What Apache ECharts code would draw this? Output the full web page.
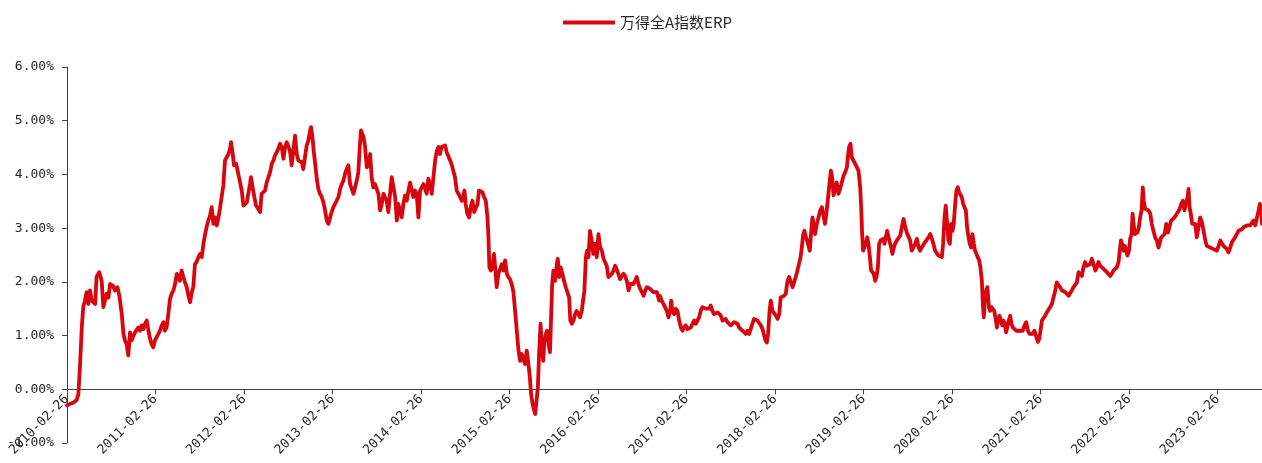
<!DOCTYPE html>
<html>
<head>
<meta charset="utf-8">
<script src="https://cdn.jsdelivr.net/npm/echarts@6/dist/echarts.min.js"></script>
<style>
html,body{margin:0;padding:0;background:#fff;}
#chart{width:1262px;height:463px;}
</style>
</head>
<body>
<div id="chart"></div>
<script>
// Series name
const seriesName = '万得全A指数ERP';
// Year tick labels (x axis = days since 2010-02-26)
const tickLabels = ['2010-02-26','2011-02-26','2012-02-26','2013-02-26','2014-02-26','2015-02-26','2016-02-26','2017-02-26','2018-02-26','2019-02-26','2020-02-26','2021-02-26','2022-02-26','2023-02-26'];
const daysPerYear = 365.25;
const lastDay = 4931;
// Y axis range (%)
const yMin = -1, yMax = 6, yStep = 1;
// ERP readings: [days since 2010-02-26, ERP in %]
const erpPoints = [
[0,-0.30],[12,-0.27],[26,-0.25],[40,-0.20],[47,-0.09],[54,0.47],[61,1.15],[67,1.53],[74,1.65],[81,1.81],[88,1.59],[95,1.84],[102,1.65],[109,1.62],[116,1.59],[122,2.09],[133,2.18],[143,2.02],[150,1.53],[157,1.56],[164,1.78],[171,1.71],[178,1.96],[189,1.93],[198,1.84],[208,1.90],[216,1.74],[226,1.40],[233,1.03],[239,0.91],[246,0.84],[253,0.63],[260,1.06],[267,0.91],[274,1.00],[281,1.06],[288,1.03],[294,1.15],[301,1.09],[308,1.19],[315,1.12],[322,1.22],[329,1.28],[336,1.09],[343,0.94],[349,0.84],[356,0.78],[363,0.91],[370,0.97],[377,1.03],[384,1.09],[391,1.19],[398,1.25],[404,1.09],[411,1.15],[418,1.40],[425,1.68],[432,1.78],[439,1.84],[446,1.96],[453,2.15],[460,2.09],[466,2.02],[473,2.21],[480,2.09],[487,1.99],[494,1.90],[501,1.74],[508,1.62],[515,1.81],[521,1.90],[528,2.33],[535,2.37],[542,2.46],[549,2.52],[556,2.46],[563,2.71],[570,2.89],[576,3.02],[583,3.14],[590,3.23],[597,3.39],[604,3.08],[611,3.20],[618,3.05],[625,3.20],[631,3.36],[638,3.58],[645,3.79],[652,4.26],[659,4.32],[666,4.38],[673,4.48],[677,4.60],[684,4.38],[689,4.17],[698,4.20],[704,4.07],[714,3.85],[721,3.70],[728,3.42],[735,3.39],[742,3.48],[748,3.64],[755,3.82],[759,3.95],[766,3.76],[773,3.58],[780,3.42],[787,3.45],
[797,3.30],[803,3.64],[810,3.61],[817,3.70],[824,3.85],[831,3.95],[838,4.04],[845,4.20],[852,4.26],[858,4.35],[865,4.41],[872,4.48],[879,4.57],[886,4.51],[893,4.29],[900,4.51],[907,4.60],[914,4.57],[920,4.44],[927,4.17],[934,4.44],[941,4.72],[948,4.38],[955,4.26],[962,4.29],[969,4.23],[975,4.10],[982,4.32],[989,4.54],[996,4.63],[1003,4.82],[1007,4.88],[1013,4.69],[1018,4.44],[1024,4.20],[1030,3.95],[1037,3.73],[1044,3.64],[1051,3.58],[1058,3.48],[1065,3.33],[1072,3.14],[1079,3.08],[1085,3.11],[1092,3.30],[1099,3.39],[1106,3.45],[1113,3.48],[1120,3.58],[1127,3.73],[1134,3.82],[1141,3.89],[1147,4.01],[1154,4.10],[1161,4.17],[1168,3.82],[1175,3.73],[1182,3.64],[1189,3.61],[1196,3.89],[1202,4.04],[1209,4.57],[1213,4.82],[1219,4.79],[1224,4.69],[1230,4.51],[1237,4.13],[1244,4.17],[1251,4.38],[1257,3.95],[1264,3.76],[1271,3.82],[1278,3.85],[1285,3.64],[1292,3.33],[1299,3.45],[1306,3.64],[1312,3.64],[1319,3.51],[1326,3.30],[1333,3.64],[1340,3.95],[1347,3.92],[1354,3.58],[1361,3.14],[1367,3.45],[1374,3.33],[1381,3.20],[1388,3.45],[1395,3.61],[1402,3.51],[1409,3.70],[1416,3.85],[1423,3.70],[1429,3.58],[1436,3.70],[1443,3.64],[1450,3.20],[1457,3.70],[1464,3.76],[1471,3.82],[1478,3.73],[1484,3.64],[1491,3.92],[1498,3.82],[1505,3.64],[1512,3.95],[1519,4.26],[1526,4.44],[1533,4.51],[1539,4.38],[1546,4.51],[1553,4.48],[1560,4.54],[1567,4.41],[1574,4.44],[1581,4.26],[1588,4.17],[1594,4.07],[1601,3.95],[1608,3.70],
[1622,3.58],[1629,3.51],[1636,3.61],[1640,3.70],[1645,3.45],[1652,3.27],[1659,3.20],[1666,3.39],[1673,3.51],[1680,3.30],[1687,3.27],[1694,3.45],[1700,3.70],[1707,3.70],[1714,3.67],[1721,3.58],[1728,3.51],[1735,3.20],[1739,2.83],[1743,2.27],[1749,2.21],[1755,2.27],[1762,2.52],[1769,2.15],[1773,1.90],[1780,2.15],[1787,2.15],[1794,2.33],[1801,2.21],[1808,2.40],[1815,2.15],[1821,2.09],[1828,2.05],[1835,1.96],[1842,1.81],[1849,1.46],[1856,1.09],[1863,0.72],[1870,0.53],[1876,0.66],[1883,0.56],[1890,0.47],[1897,0.72],[1904,0.47],[1910,0.22],[1915,-0.09],[1921,-0.27],[1926,-0.37],[1932,-0.46],[1937,-0.24],[1943,0.04],[1948,0.66],[1954,1.22],[1959,0.84],[1965,0.53],[1970,0.91],[1976,1.03],[1981,1.09],[1987,0.84],[1993,0.69],[1998,0.66],[2002,1.96],[2007,2.21],[2014,2.02],[2021,2.33],[2025,2.43],[2031,2.09],[2037,2.27],[2044,2.15],[2051,2.02],[2058,1.90],[2065,1.90],[2072,1.71],[2077,1.28],[2083,1.22],[2090,1.28],[2097,1.40],[2103,1.46],[2110,1.40],[2117,1.34],[2124,1.46],[2131,1.46],[2135,1.84],[2141,2.46],[2146,2.58],[2152,2.46],[2158,2.95],[2165,2.77],[2172,2.52],[2179,2.71],[2186,2.46],[2193,2.89],[2200,2.64],[2207,2.58],[2214,2.43],[2220,2.40],[2227,2.30],[2234,2.09],[2241,2.09],[2248,2.15],[2255,2.21],[2262,2.30],[2269,2.27],[2275,2.15],[2282,2.05],[2289,2.02],[2296,2.15],[2303,2.11],[2310,2.02],[2317,1.84],[2324,1.96],[2330,1.93],[2337,1.96],[2344,2.02],[2351,2.09],[2358,1.96],[2365,1.87],[2372,1.81],[2379,1.74],[2386,1.84],[2392,1.90],[2399,1.93],[2406,1.87],[2413,1.84],[2420,1.81],[2427,1.84],[2434,1.81],[2443,1.65],
[2447,1.74],[2454,1.65],[2461,1.59],[2468,1.56],[2475,1.46],[2482,1.34],[2489,1.46],[2493,1.65],[2498,1.46],[2505,1.40],[2512,1.50],[2519,1.46],[2526,1.28],[2533,1.15],[2540,1.09],[2546,1.15],[2553,1.19],[2560,1.12],[2567,1.09],[2574,1.15],[2581,1.22],[2588,1.28],[2595,1.22],[2601,1.25],[2608,1.34],[2615,1.46],[2622,1.53],[2629,1.53],[2636,1.50],[2643,1.53],[2650,1.50],[2656,1.56],[2663,1.46],[2670,1.40],[2677,1.37],[2684,1.43],[2691,1.46],[2698,1.37],[2705,1.28],[2712,1.25],[2718,1.31],[2725,1.25],[2732,1.22],[2739,1.19],[2746,1.22],[2753,1.25],[2760,1.25],[2767,1.22],[2773,1.15],[2780,1.12],[2787,1.09],[2794,1.06],[2801,1.03],[2808,1.09],[2815,1.03],[2822,1.06],[2828,1.22],[2835,1.31],[2842,1.31],[2849,1.28],[2856,1.25],[2863,1.19],[2870,1.12],[2877,1.00],[2882,0.91],[2888,0.87],[2893,1.03],[2899,1.46],[2904,1.65],[2911,1.46],[2918,1.43],[2925,1.37],[2932,1.31],[2939,1.40],[2945,1.71],[2952,1.74],[2959,1.74],[2966,1.78],[2973,2.02],[2980,2.09],[2987,2.09],[2994,1.90],[3000,1.87],[3007,2.09],[3014,2.21],[3021,2.21],[3027,2.46],[3032,2.64],[3038,2.89],[3043,2.95],[3049,2.83],[3054,2.77],[3060,2.77],[3065,2.58],[3071,2.95],[3076,3.20],[3082,3.02],[3087,2.89],[3094,3.08],[3101,3.20],[3108,3.33],[3115,3.39],[3121,3.42],[3128,3.08],[3135,3.33],[3142,3.64],[3146,3.82],[3152,4.07],[3157,3.95],[3163,3.61],[3170,3.76],[3176,3.85],[3183,3.64],[3190,3.73],[3197,3.85],[3204,3.97],[3211,4.04],[3218,4.13],[3222,4.32],[3227,4.51],[3233,4.57],[3238,4.32],[3245,4.29],[3252,4.20],[3259,4.17],[3266,4.07],
[3273,3.76],[3277,3.39],[3281,2.89],[3285,2.58],[3291,2.58],[3296,2.71],[3302,2.83],[3307,2.71],[3313,2.46],[3318,2.21],[3324,2.18],[3329,2.15],[3335,2.02],[3340,2.09],[3346,2.27],[3351,2.71],[3357,2.77],[3362,2.74],[3368,2.80],[3373,2.71],[3379,2.83],[3384,2.95],[3390,2.83],[3395,2.74],[3401,2.64],[3406,2.52],[3412,2.64],[3417,2.71],[3424,2.77],[3431,2.80],[3438,2.86],[3445,3.02],[3452,3.17],[3459,3.02],[3465,2.92],[3472,2.95],[3479,2.77],[3486,2.58],[3493,2.64],[3500,2.71],[3507,2.80],[3514,2.64],[3520,2.58],[3527,2.64],[3534,2.67],[3541,2.74],[3548,2.77],[3555,2.83],[3562,2.89],[3569,2.80],[3575,2.71],[3582,2.58],[3589,2.58],[3596,2.49],[3603,2.46],[3610,2.46],[3615,2.71],[3621,3.20],[3626,3.42],[3632,3.08],[3637,2.77],[3643,2.71],[3648,3.08],[3654,2.95],[3659,3.08],[3665,3.45],[3670,3.70],[3676,3.76],[3681,3.67],[3687,3.64],[3692,3.58],[3698,3.45],[3703,3.45],[3709,3.33],[3714,3.02],[3720,2.83],[3725,2.71],[3731,2.64],[3736,2.89],[3742,2.71],[3747,2.58],[3753,2.55],[3758,2.46],[3764,2.40],[3769,2.27],[3775,2.02],[3779,1.59],[3783,1.34],[3787,1.65],[3793,1.84],[3798,1.90],[3804,1.53],[3809,1.46],[3815,1.53],[3820,1.56],[3826,1.46],[3831,1.34],[3837,1.15],[3842,1.28],[3848,1.37],[3853,1.28],[3859,1.19],[3864,1.28],[3870,1.22],[3875,1.06],[3881,1.09],[3886,1.28],[3892,1.37],[3897,1.22],[3903,1.15],[3910,1.12],[3917,1.09],[3924,1.06],[3930,1.09],[3937,1.06],[3944,1.09],[3951,1.19],[3958,1.25],[3965,1.09],[3972,1.03],[3979,1.00],[3985,1.03],[3992,1.09],[3999,1.06],[4006,0.88],[4012,0.94],[4017,1.09],[4023,1.28],[4029,1.31],[4036,1.37],[4043,1.43],[4050,1.46],[4057,1.53],[4064,1.59],[4071,1.62],[4078,1.84],[4084,1.99],
[4091,1.99],[4098,1.90],[4105,1.84],[4112,1.81],[4119,1.81],[4126,1.78],[4133,1.74],[4139,1.71],[4146,1.84],[4153,1.90],[4160,1.90],[4167,1.99],[4174,2.18],[4181,2.15],[4188,2.11],[4194,2.27],[4201,2.37],[4208,2.30],[4215,2.27],[4222,2.33],[4229,2.43],[4236,2.33],[4243,2.21],[4250,2.27],[4256,2.37],[4263,2.30],[4270,2.27],[4277,2.24],[4284,2.21],[4291,2.18],[4298,2.21],[4305,2.11],[4311,2.15],[4318,2.21],[4325,2.24],[4332,2.27],[4339,2.37],[4344,2.58],[4349,2.77],[4354,2.71],[4360,2.58],[4365,2.67],[4371,2.58],[4376,2.49],[4382,2.58],[4387,2.80],[4393,2.89],[4397,3.27],[4401,3.08],[4406,2.89],[4412,2.92],[4417,2.92],[4423,3.02],[4428,3.20],[4434,3.33],[4439,3.76],[4443,3.51],[4449,3.36],[4456,3.33],[4463,3.33],[4470,3.27],[4476,3.08],[4483,2.95],[4490,2.83],[4497,2.77],[4504,2.64],[4510,2.61],[4515,2.83],[4522,2.80],[4529,2.89],[4536,3.08],[4543,2.92],[4549,3.02],[4556,3.14],[4563,3.17],[4570,3.20],[4577,3.20],[4584,3.30],[4591,3.36],[4598,3.45],[4604,3.51],[4611,3.33],[4618,3.48],[4624,3.58],[4628,3.73],[4632,3.39],[4637,3.27],[4643,3.08],[4648,3.05],[4655,3.08],[4662,2.83],[4669,3.02],[4676,3.20],[4683,3.11],[4690,2.95],[4697,2.77],[4703,2.67],[4710,2.64],[4717,2.64],[4724,2.67],[4731,2.61],[4738,2.64],[4745,2.58],[4752,2.67],[4759,2.77],[4765,2.74],[4772,2.67],[4779,2.64],[4786,2.61],[4793,2.55],[4800,2.64],[4807,2.74],[4814,2.77],[4820,2.83],[4827,2.89],[4834,2.95],[4841,2.95],[4848,2.98],[4855,3.02],[4862,3.02],[4869,3.05],[4875,3.08],[4882,3.05],[4889,3.05],[4896,3.14],[4903,3.05],[4910,3.08],[4917,3.33],[4922,3.45],[4928,3.39],[4931,3.08]
];

const chart = echarts.init(document.getElementById('chart'), null, {renderer:'canvas'});
const labelColor = '#262626';
const axisColor = '#404040';
const lineColor = '#D7060F';
const labelFont = '"DejaVu Sans Mono", monospace';
function xLabel(v) {
  const idx = Math.round(v / daysPerYear);
  return tickLabels[idx] || '';
}
chart.setOption({
  animation: false,
  backgroundColor: '#ffffff',
  legend: {
    data: [seriesName],
    left: 558,
    top: 10,
    icon: 'rect',
    itemWidth: 52,
    itemHeight: 4,
    itemGap: 10,
    textStyle: {fontFamily: '"Noto Sans CJK SC", sans-serif', fontSize: 15, color: labelColor}
  },
  grid: [
    {left: 67, right: 0, top: 67, bottom: 20, containLabel: false, outerBoundsMode: 'none'},
    // helper grid whose bottom edge sits on the zero line, used only for the x tick labels
    {left: 67, right: 0, top: 67, bottom: 74, containLabel: false, outerBoundsMode: 'none'}
  ],
  xAxis: [
    {
      type: 'value', gridIndex: 0,
      min: 0, max: lastDay, interval: daysPerYear,
      axisLine: {show: true, onZero: true, lineStyle: {color: axisColor, width: 1}},
      axisTick: {show: true, length: 5, lineStyle: {color: axisColor}},
      splitLine: {show: false},
      axisLabel: {show: false}
    },
    {
      type: 'value', gridIndex: 1,
      min: 0, max: lastDay, interval: daysPerYear,
      axisLine: {show: false, onZero: false},
      axisTick: {show: false},
      splitLine: {show: false},
      axisLabel: {
        rotate: 45, margin: 8, showMaxLabel: false,
        fontFamily: labelFont, fontSize: 13, color: labelColor,
        formatter: xLabel
      }
    }
  ],
  yAxis: [
    {
      type: 'value', gridIndex: 0,
      min: yMin, max: yMax, interval: yStep,
      axisLine: {show: true, lineStyle: {color: axisColor, width: 1}},
      axisTick: {show: true, length: 5, lineStyle: {color: axisColor}},
      splitLine: {show: false},
      axisLabel: {
        margin: 13, fontFamily: labelFont, fontSize: 13, color: labelColor,
        formatter: function (v) { return v.toFixed(2) + '%'; }
      }
    },
    {
      type: 'value', gridIndex: 1, min: 0, max: 1, show: false
    }
  ],
  series: [{
    name: seriesName,
    type: 'line',
    xAxisIndex: 0, yAxisIndex: 0,
    data: erpPoints,
    showSymbol: false,
    symbol: 'none',
    lineStyle: {color: lineColor, width: 3.8, join: 'round', cap: 'round'},
    itemStyle: {color: lineColor},
    z: 3
  }]
});
</script>
</body>
</html>
